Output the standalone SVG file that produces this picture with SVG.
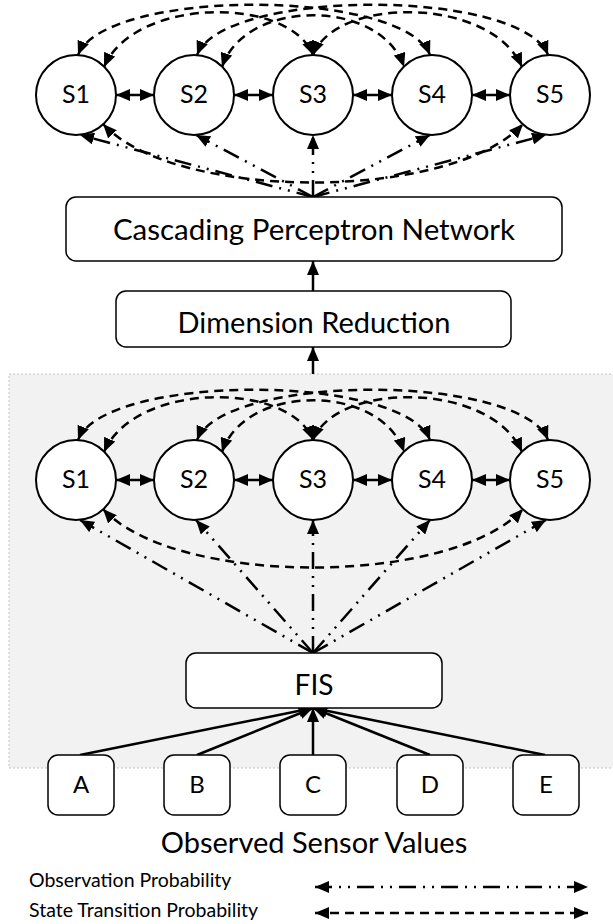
<svg xmlns="http://www.w3.org/2000/svg" width="613" height="924" viewBox="0 0 613 924">
  <defs>
    <marker id="ah" viewBox="0 0 14 12" refX="14" refY="6" markerWidth="14" markerHeight="12" markerUnits="userSpaceOnUse" orient="auto-start-reverse">
      <path d="M0,0 L14,6 L0,12 z" fill="#000"/>
    </marker>
    <style>
      text { font-family: Lato, "Liberation Sans", sans-serif; fill: #000; }
      .lbl { text-anchor: middle; }
      .state { fill: #fff; stroke: #000; stroke-width: 2; }
      .box { fill: #fff; stroke: #000; stroke-width: 1.5; }
      .solid { fill: none; stroke: #000; stroke-width: 2.5; }
      .trans { fill: none; stroke: #000; stroke-width: 2.5; stroke-dasharray: 9 6; }
      .obs { fill: none; stroke: #000; stroke-width: 2.5; stroke-dasharray: 17 7 2 7 2 7; }
      .both { marker-start: url(#ah); marker-end: url(#ah); }
      .end { marker-end: url(#ah); }
    </style>
  </defs>

  <!-- shaded fuzzy-HMM region -->
  <rect id="fuzzy-region" x="9" y="374" width="610" height="394" fill="#f2f2f2" stroke="#c4c4c4" stroke-width="1" stroke-dasharray="2 2"/>

  <g id="connectors">
    <!-- upper HMM: state transitions over the top -->
    <path class="trans both" d="M78,55 C105,-12 403,-12 430,55"/>
    <path class="trans both" d="M197,55 C224,-12 521,-12 548,55"/>
    <path class="trans both" d="M104,67 C135,-4 290,-4 313,55"/>
    <path class="trans both" d="M313,55 C336,-4 491,-4 522,67"/>
    <path class="trans both" d="M222,67 C245,-2 381,-2 404,67"/>
    <path class="trans both" d="M103,124 C175,202 451,202 523,124"/>
    <!-- upper HMM: adjacent transitions -->
    <path class="solid both" d="M116,95 L154,95"/>
    <path class="solid both" d="M234,95 L273,95"/>
    <path class="solid both" d="M353,95 L392,95"/>
    <path class="solid both" d="M472,95 L510,95"/>
    <!-- upper HMM: observation probabilities from the perceptron network -->
    <path class="obs end" d="M313,197 L80,135"/>
    <path class="obs end" d="M313,197 L196,135"/>
    <path class="obs end" d="M313,197 L313,135"/>
    <path class="obs end" d="M313,197 L430,135"/>
    <path class="obs end" d="M313,197 L546,135"/>

    <!-- pipeline -->
    <path class="solid end" d="M313,291 L313,261"/>
    <path class="solid end" d="M313,374 L313,347"/>

    <!-- lower HMM: state transitions over the top -->
    <path class="trans both" d="M78,440 C105,373 403,373 430,440"/>
    <path class="trans both" d="M197,440 C224,373 521,373 548,440"/>
    <path class="trans both" d="M104,452 C135,381 290,381 313,440"/>
    <path class="trans both" d="M313,440 C336,381 491,381 522,452"/>
    <path class="trans both" d="M222,452 C245,383 381,383 404,452"/>
    <path class="trans both" d="M103,509 C175,587 451,587 523,509"/>
    <!-- lower HMM: adjacent transitions -->
    <path class="solid both" d="M116,480 L154,480"/>
    <path class="solid both" d="M234,480 L273,480"/>
    <path class="solid both" d="M353,480 L392,480"/>
    <path class="solid both" d="M472,480 L510,480"/>
    <!-- lower HMM: observation probabilities from the FIS -->
    <path class="obs end" d="M313,653 L80,520"/>
    <path class="obs end" d="M313,653 L196,520"/>
    <path class="obs end" d="M313,653 L313,520"/>
    <path class="obs end" d="M313,653 L430,520"/>
    <path class="obs end" d="M313,653 L546,520"/>

    <!-- sensor inputs to the FIS -->
    <path class="solid end" d="M80,755 L313,708"/>
    <path class="solid end" d="M197,755 L313,708"/>
    <path class="solid end" d="M313,755 L313,708"/>
    <path class="solid end" d="M430,755 L313,708"/>
    <path class="solid end" d="M545,755 L313,708"/>

    <!-- legend arrows -->
    <path class="obs both" d="M315,887 L588,887" stroke-dasharray="20 11 3 9 3 12"/>
    <path class="trans both" d="M315,913 L588,913" stroke-dasharray="10 7"/>
  </g>

  <!-- upper HMM states -->
  <g id="top-s1"><circle class="state" cx="76" cy="95" r="40"/><text class="lbl" x="76" y="103" font-size="25">S1</text></g>
  <g id="top-s2"><circle class="state" cx="194" cy="95" r="40"/><text class="lbl" x="194" y="103" font-size="25">S2</text></g>
  <g id="top-s3"><circle class="state" cx="313" cy="95" r="40"/><text class="lbl" x="313" y="103" font-size="25">S3</text></g>
  <g id="top-s4"><circle class="state" cx="432" cy="95" r="40"/><text class="lbl" x="432" y="103" font-size="25">S4</text></g>
  <g id="top-s5"><circle class="state" cx="550" cy="95" r="40"/><text class="lbl" x="550" y="103" font-size="25">S5</text></g>

  <g id="cpn"><rect class="box" x="66" y="197" width="496" height="64" rx="10"/><text class="lbl" x="314" y="240" font-size="29.5">Cascading Perceptron Network</text></g>
  <g id="dim-reduction"><rect class="box" x="116" y="291" width="395" height="56" rx="10"/><text class="lbl" x="314" y="333" font-size="29">Dimension Reduction</text></g>

  <!-- lower HMM states -->
  <g id="low-s1"><circle class="state" cx="76" cy="480" r="40"/><text class="lbl" x="76" y="488" font-size="25">S1</text></g>
  <g id="low-s2"><circle class="state" cx="194" cy="480" r="40"/><text class="lbl" x="194" y="488" font-size="25">S2</text></g>
  <g id="low-s3"><circle class="state" cx="313" cy="480" r="40"/><text class="lbl" x="313" y="488" font-size="25">S3</text></g>
  <g id="low-s4"><circle class="state" cx="432" cy="480" r="40"/><text class="lbl" x="432" y="488" font-size="25">S4</text></g>
  <g id="low-s5"><circle class="state" cx="550" cy="480" r="40"/><text class="lbl" x="550" y="488" font-size="25">S5</text></g>

  <g id="fis"><rect class="box" x="186" y="653" width="256" height="55" rx="10"/><text class="lbl" x="314" y="695" font-size="28">FIS</text></g>

  <!-- sensor inputs -->
  <g id="sensor-a"><rect class="box" x="48" y="755" width="66" height="60" rx="10"/><text class="lbl" x="81" y="793" font-size="24">A</text></g>
  <g id="sensor-b"><rect class="box" x="164" y="755" width="66" height="60" rx="10"/><text class="lbl" x="197" y="793" font-size="24">B</text></g>
  <g id="sensor-c"><rect class="box" x="280" y="755" width="66" height="60" rx="10"/><text class="lbl" x="313" y="793" font-size="24">C</text></g>
  <g id="sensor-d"><rect class="box" x="397" y="755" width="66" height="60" rx="10"/><text class="lbl" x="430" y="793" font-size="24">D</text></g>
  <g id="sensor-e"><rect class="box" x="513" y="755" width="66" height="60" rx="10"/><text class="lbl" x="546" y="793" font-size="24">E</text></g>

  <text id="sensor-caption" class="lbl" x="314" y="853" font-size="29">Observed Sensor Values</text>

  <g id="legend">
    <text x="29" y="887" font-size="19.5">Observation Probability</text>
    <text x="29" y="917" font-size="19.5">State Transition Probability</text>
  </g>
</svg>
